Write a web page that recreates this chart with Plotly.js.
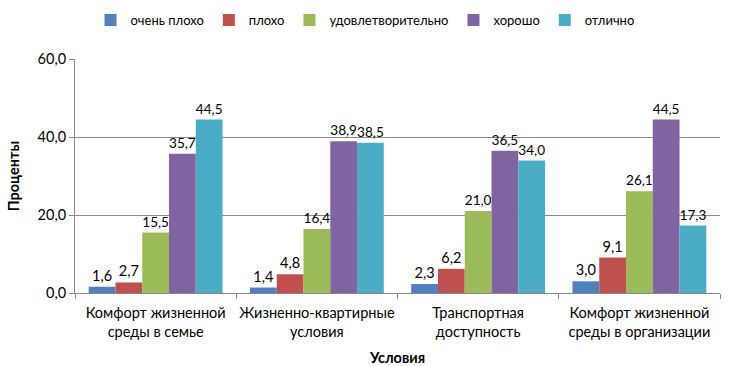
<!DOCTYPE html>
<html><head><meta charset="utf-8">
<script src="https://cdn.plot.ly/plotly-3.0.1.min.js"></script>
<style>body{margin:0;background:#fff}#c{width:730px;height:366px}</style>
</head><body><div id="c"></div>
<script>
const categories = ["Комфорт жизненной<br>среды в семье", "Жизненно-квартирные<br>условия", "Транспортная<br>доступность", "Комфорт жизненной<br>среды в организации"];
const seriesNames = ["очень плохо", "плохо", "удовлетворительно", "хорошо", "отлично"];
const veryBad = [1.6, 1.4, 2.3, 3.0];
const bad = [2.7, 4.8, 6.2, 9.1];
const satisfactory = [15.5, 16.4, 21.0, 26.1];
const good = [35.7, 38.9, 36.5, 44.5];
const excellent = [44.5, 38.5, 34.0, 17.3];
const yTicks = [0, 20, 40, 60];
const colors = ["#4F81BD", "#C0504D", "#9BBB59", "#8064A2", "#4BACC6"];
const values = [veryBad, bad, satisfactory, good, excellent];
const font = "Lato, Open Sans, sans-serif";
const traces = values.map((v, i) => ({
  type: "bar", name: seriesNames[i], x: categories, y: v,
  marker: {color: colors[i]},
  text: v, texttemplate: "%{y:.1f}", textposition: "outside",
  textfont: {size: 14.5, color: "#000", family: font},
  cliponaxis: false, hoverinfo: "skip"
}));
Plotly.newPlot("c", traces, {
  width: 730, height: 366,
  margin: {l: 75, r: 10, t: 59, b: 73},
  separators: ",.",
  barmode: "group", bargap: 0.17, bargroupgap: 0,
  paper_bgcolor: "#fff", plot_bgcolor: "#fff",
  font: {family: font, size: 14.5, color: "#000"},
  showlegend: true,
  legend: {orientation: "h", x: 0.5, xanchor: "center", xref: "container", yref: "container", y: 0.945, yanchor: "middle", font: {size: 13}, itemwidth: 30, traceorder: "normal"},
  xaxis: {type: "category", showline: true, linecolor: "#888", ticks: "outside", tickson: "boundaries", ticklen: 5, tickcolor: "#888",
    tickangle: 0, automargin: false, ticklabelstandoff: 7,
    tickfont: {size: 14.5}, title: {text: "<b>Условия</b>", font: {size: 14.5}, standoff: 14}},
  yaxis: {range: [0, 60], tickvals: yTicks, tickformat: ".1f", showline: true, linecolor: "#888", ticks: "outside", ticklen: 5, tickcolor: "#888",
    gridcolor: "#8a8a8a", gridwidth: 1, zeroline: false, tickfont: {size: 14.5}, automargin: false,
    title: {text: "<b>Проценты</b>", font: {size: 14.5}, standoff: 14}}
}, {staticPlot: true});
</script></body></html>
